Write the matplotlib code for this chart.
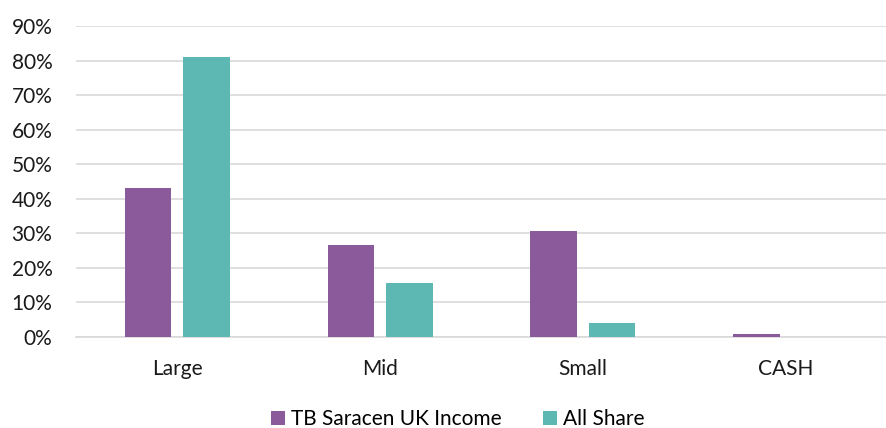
import numpy as np
import matplotlib.pyplot as plt
from matplotlib.ticker import PercentFormatter

categories = ['Large', 'Mid', 'Small', 'CASH']
saracen = [43.0, 26.5, 30.6, 1.0]
all_share = [81.1, 15.6, 4.0, 0.0]

purple = '#8B5A9B'
teal = '#5DB8B3'

plt.rcParams['font.family'] = ['Lato', 'DejaVu Sans']

fig = plt.figure(figsize=(8.87, 4.28), dpi=100)
ax = fig.add_axes([76 / 887, 91 / 428, 811 / 887, 311 / 428])

x = np.arange(len(categories))
w = 0.23
gap = 0.058
ax.bar(x - w / 2 - gap / 2, saracen, w, color=purple, label='TB Saracen UK Income', zorder=3)
ax.bar(x + w / 2 + gap / 2, all_share, w, color=teal, label='All Share', zorder=3)

ax.set_xlim(-0.5, len(categories) - 0.5)
ax.set_ylim(0, 90)
ax.set_yticks(range(0, 91, 10))
ax.yaxis.set_major_formatter(PercentFormatter(decimals=0))
ax.set_xticks(x)
ax.set_xticklabels(categories)

ax.grid(axis='y', color='#D9D9D9', linewidth=1.2, zorder=0)
for s in ['top', 'right', 'left']:
    ax.spines[s].set_visible(False)
ax.spines['bottom'].set_color('#D9D9D9')
ax.spines['bottom'].set_linewidth(1.2)
ax.tick_params(axis='both', length=0, labelsize=15, colors='#1a1a1a')
ax.tick_params(axis='x', pad=16)
ax.tick_params(axis='y', pad=17)

fig.legend(loc='center', bbox_to_anchor=(458 / 887, 1 - 419 / 428), ncol=2,
           frameon=False, fontsize=15, handlelength=0.65, handleheight=0.65,
           handletextpad=0.3, columnspacing=2.0)

fig.savefig('out.png', dpi=100)
